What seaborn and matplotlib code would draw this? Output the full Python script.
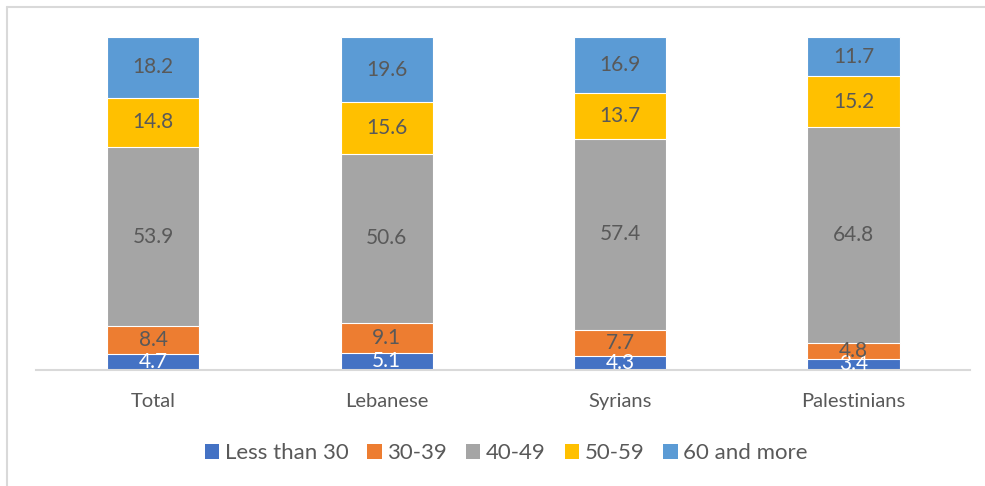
import numpy as np
import pandas as pd
import seaborn as sns
import matplotlib.pyplot as plt
from matplotlib.patches import Patch

# data
groups = ["Total", "Lebanese", "Syrians", "Palestinians"]
age_bands = ["Less than 30", "30-39", "40-49", "50-59", "60 and more"]
less_30 = [4.7, 5.1, 4.3, 3.4]
age_30_39 = [8.4, 9.1, 7.7, 4.8]
age_40_49 = [53.9, 50.6, 57.4, 64.8]
age_50_59 = [14.8, 15.6, 13.7, 15.2]
age_60_up = [18.2, 19.6, 16.9, 11.7]
colors = ["#4472C4", "#ED7D31", "#A5A5A5", "#FFC000", "#5B9BD5"]

layers = [less_30, age_30_39, age_40_49, age_50_59, age_60_up]
df = pd.DataFrame(dict(zip(age_bands, layers)), index=groups)
cum = df.cumsum(axis=1)

sns.set_style("white")
plt.rcParams["font.family"] = ["Lato", "DejaVu Sans"]
text_col = "#595959"

fig = plt.figure(figsize=(9.85, 4.86), dpi=100)
ax = fig.add_axes([0.037, 0.239, 0.948, 0.685])

# stacked bars: draw cumulative heights from the top layer down
for band, col in reversed(list(zip(age_bands, colors))):
    sns.barplot(x=groups, y=cum[band].values, color=col, width=0.395,
                saturation=1, edgecolor="white", linewidth=0.8, ax=ax, zorder=2)

# segment labels
for i, g in enumerate(groups):
    for j, band in enumerate(age_bands):
        v = df.loc[g, band]
        yc = cum.loc[g, band] - v / 2
        ax.text(i, yc, f"{v:.1f}", ha="center", va="center", fontsize=15,
                color="white" if j == 0 else text_col, zorder=3)

ax.set_ylim(0, 100)
ax.set_xlim(-0.5, 3.5)
ax.set_yticks([])
ax.set_ylabel("")
for s in ["top", "right", "left"]:
    ax.spines[s].set_visible(False)
ax.spines["bottom"].set_color("#D9D9D9")
ax.spines["bottom"].set_linewidth(1.5)
ax.tick_params(axis="x", length=0, pad=17, labelsize=14.5, labelcolor=text_col)

handles = [Patch(facecolor=c, edgecolor="none") for c in colors]
fig.legend(handles, age_bands, loc="center", bbox_to_anchor=(0.514, 0.068),
           ncol=5, frameon=False, fontsize=16, labelcolor=text_col,
           handlelength=0.65, handleheight=0.65, handletextpad=0.25,
           columnspacing=0.85)

# chart area border (left and top visible)
fig.add_artist(plt.Line2D([0.007, 0.007], [0, 0.985], transform=fig.transFigure,
                          color="#D9D9D9", linewidth=1.5))
fig.add_artist(plt.Line2D([0.007, 1.0], [0.985, 0.985], transform=fig.transFigure,
                          color="#D9D9D9", linewidth=1.5))

fig.savefig("out.png", dpi=100)
